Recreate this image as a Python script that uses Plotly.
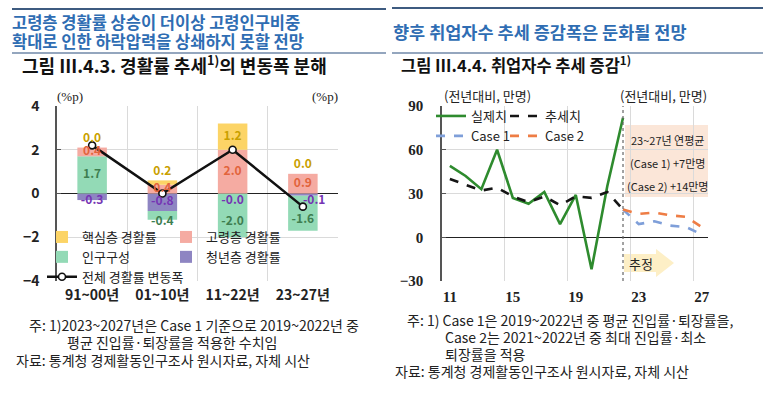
import plotly.graph_objects as go

# ---------------- data ----------------
categories = ["91~00년", "01~10년", "11~22년", "23~27년"]
core_lfpr = [0.0, 0.2, 1.2, 0.0]        # 핵심층 경활률
elderly_lfpr = [0.4, 0.4, 2.0, 0.9]     # 고령층 경활률
pop_comp = [1.7, -0.4, -2.0, -1.6]      # 인구구성
youth_lfpr = [-0.3, -0.8, -0.0, -0.1]   # 청년층 경활률
total_change = [2.2, 0.0, 2.0, -0.6]    # 전체 경활률 변동폭

years_actual = [11, 12, 13, 14, 15, 16, 17, 18, 19, 20, 21, 22]
actual = [49, 42, 33, 60, 27, 23, 31, 9, 29, -22, 35, 82]
trend = [40, 36, 32, 34, 28, 24, 28, 22, 28, 27, 31, 19]
years_fc = [22, 23, 24, 25, 26, 27]
case1 = [19, 9, 11, 8, 7, 2]
case2 = [19, 16, 17, 15, 14, 7]

left_yticks = [-4, -2, 0, 2, 4]
right_yticks = [-30, 0, 30, 60, 90]
right_xticks = [11, 15, 19, 23, 27]

# ---------------- styling ----------------
W, H = 780, 399
KR = "Noto Sans CJK KR"
SERIF = "Liberation Serif"
C_YEL, C_PINK, C_GRN, C_PUR = "#FCD466", "#F5ABA2", "#93DAB6", "#8E85C2"
T_YEL, T_PINK, T_GRN, T_PUR = "#C9A000", "#E2643C", "#3E7E50", "#7534B4"
GRID = "#DADADA"
AX = "#555555"
BLUE = "#2F6DB3"


def X(px):
    return px / W


def Y(py):
    return 1 - py / H


fig = go.Figure()

# ---------------- left chart: stacked bars ----------------
bar_specs = [
    ("청년층 경활률", youth_lfpr, C_PUR, "legend3", 4),
    ("인구구성", pop_comp, C_GRN, "legend", 3),
    ("고령층 경활률", elderly_lfpr, C_PINK, "legend3", 2),
    ("핵심층 경활률", core_lfpr, C_YEL, "legend", 1),
]
for name, vals, col, lg, rank in bar_specs:
    fig.add_trace(go.Bar(
        x=categories, y=vals, name=name, marker=dict(color=col, line=dict(width=0)),
        width=0.42, xaxis="x", yaxis="y", legend=lg, legendrank=rank, hoverinfo="skip",
    ))

fig.add_trace(go.Scatter(
    x=categories, y=total_change, name="전체 경활률 변동폭", mode="lines+markers",
    line=dict(color="#111111", width=2.5),
    marker=dict(symbol="circle", size=7, color="white", line=dict(color="#111111", width=1.6)),
    xaxis="x", yaxis="y", legend="legend", legendrank=5, hoverinfo="skip",
))

# value labels computed from the data
lab = {"yel": ([], [], []), "pink": ([], [], []), "grn": ([], [], []), "pur": ([], [], [], [])}
for i, cat in enumerate(categories):
    pc, el, co, yo = pop_comp[i], elderly_lfpr[i], core_lfpr[i], youth_lfpr[i]
    neg_base = min(yo, 0)
    gy = pc / 2 if pc >= 0 else neg_base + pc / 2 - 0.3
    lab["grn"][0].append(cat); lab["grn"][1].append(gy); lab["grn"][2].append(f"{pc:.1f}")
    pos = max(pc, 0)
    lab["pink"][0].append(cat); lab["pink"][1].append(pos + el / 2); lab["pink"][2].append(f"{el:.1f}")
    pos += max(el, 0)
    yy = pos + co / 2 if co >= 0.6 else pos + co + 0.4
    lab["yel"][0].append(cat); lab["yel"][1].append(yy); lab["yel"][2].append(f"{co:.1f}")
    py_ = min(yo / 2, -0.35)
    lab["pur"][0].append(cat); lab["pur"][1].append(py_); lab["pur"][2].append(f"{yo:.1f}")
    lab["pur"][3].append("middle right" if abs(total_change[i] - py_) < 0.3 else "middle center")

for key, col in [("grn", T_GRN), ("pink", T_PINK), ("yel", T_YEL), ("pur", T_PUR)]:
    d = lab[key]
    fig.add_trace(go.Scatter(
        x=d[0], y=d[1], text=d[2], mode="text",
        textposition=d[3] if key == "pur" else "middle center",
        textfont=dict(family=KR, size=12, color=col, weight="bold"),
        xaxis="x", yaxis="y", showlegend=False, hoverinfo="skip",
    ))

# ---------------- right chart: lines ----------------
fig.add_trace(go.Scatter(
    x=years_actual, y=actual, name="실제치", mode="lines",
    line=dict(color="#2E8B2E", width=2.6), xaxis="x2", yaxis="y2",
    legend="legend2", legendrank=1, hoverinfo="skip",
))
fig.add_trace(go.Scatter(
    x=years_actual, y=trend, name="추세치", mode="lines",
    line=dict(color="#151515", width=2.6, dash="dash"), xaxis="x2", yaxis="y2",
    legend="legend4", legendrank=1, hoverinfo="skip",
))
fig.add_trace(go.Scatter(
    x=years_fc, y=case1, name="Case 1", mode="lines",
    line=dict(color="#7F9FD9", width=2.6, dash="dash"), xaxis="x2", yaxis="y2",
    legend="legend2", legendrank=2, hoverinfo="skip",
))
fig.add_trace(go.Scatter(
    x=years_fc, y=case2, name="Case 2", mode="lines",
    line=dict(color="#EE7D45", width=2.6, dash="dash"), xaxis="x2", yaxis="y2",
    legend="legend4", legendrank=2, hoverinfo="skip",
))

# ---------------- axes ----------------
dom_y = [Y(281), Y(106)]
tick_l = dict(family=KR, size=14, color="#222222", weight="bold")
tick_r = dict(family=SERIF, size=15, color="#222222", weight="bold")

fig.update_layout(
    width=W, height=H, autosize=False,
    margin=dict(l=0, r=0, t=0, b=0, pad=0, autoexpand=False),
    paper_bgcolor="white", plot_bgcolor="white",
    barmode="relative", bargap=0.58,
    showlegend=True,
    xaxis=dict(domain=[X(57), X(338)], type="category", range=[-0.5, 3.5],
               tickson="boundaries", showgrid=True, gridcolor=GRID, gridwidth=1,
               ticks="", showline=False, zeroline=False, tickfont=tick_l,
               ticklabelstandoff=4, anchor="y", automargin=False),
    yaxis=dict(domain=dom_y, range=[-4, 4], tickvals=left_yticks, showgrid=True,
               gridcolor=GRID, zeroline=True, zerolinecolor="#222222", zerolinewidth=1.3,
               showline=True, linecolor=AX, linewidth=1.5, ticks="inside", ticklen=4,
               tickcolor=AX, tickfont=tick_l, ticklabelstandoff=13, anchor="x",
               automargin=False),
    yaxis3=dict(domain=dom_y, range=[-4, 4], tickvals=left_yticks, overlaying="y", side="right",
                showgrid=False, zeroline=False, showline=True, linecolor=AX, linewidth=1.5,
                ticks="inside", ticklen=4, tickcolor=AX, tickfont=tick_l,
                ticklabelstandoff=12, anchor="x", automargin=False),
    xaxis2=dict(domain=[X(442), X(708)], range=[10.5, 27.4], tickvals=right_xticks,
                showgrid=False, ticks="", showline=False, zeroline=False, tickfont=tick_r,
                minor=dict(tick0=10.5, dtick=4, showgrid=True, gridcolor=GRID, ticks=""),
                ticklabelstandoff=5, anchor="y2", automargin=False),
    yaxis2=dict(domain=dom_y, range=[-30, 90], tickvals=right_yticks, showgrid=True,
                gridcolor=GRID, zeroline=True, zerolinecolor="#222222", zerolinewidth=1.3,
                showline=True, linecolor=AX, linewidth=1.5, ticks="inside", ticklen=4,
                tickcolor=AX, tickfont=tick_r, ticklabelstandoff=14, anchor="x2",
                automargin=False),
    yaxis4=dict(domain=dom_y, range=[-30, 90], tickvals=right_yticks, overlaying="y2",
                side="right", showgrid=False, zeroline=False, showline=True, linecolor=AX,
                linewidth=1.5, ticks="inside", ticklen=4, tickcolor=AX, tickfont=tick_r,
                ticklabelstandoff=16, anchor="x2", automargin=False),
)

leg_font = dict(family=KR, size=13, color="#222222")
common_leg = dict(orientation="v", bgcolor="rgba(0,0,0,0)", borderwidth=0, font=leg_font,
                  tracegroupgap=0, itemwidth=30, xanchor="left", yanchor="top",
                  xref="paper", yref="paper", traceorder="normal")
fig.update_layout(
    legend=dict(x=X(42), y=Y(222), **common_leg),
    legend3=dict(x=X(166), y=Y(222), **common_leg),
    legend2=dict(x=X(431), y=Y(101), **common_leg),
    legend4=dict(x=X(505), y=Y(101), **common_leg),
)

# ---------------- shapes ----------------
shapes = [
    dict(type="line", xref="paper", yref="paper", x0=X(12), x1=X(386), y0=Y(9), y1=Y(9),
         line=dict(color="#3E5B80", width=2)),
    dict(type="line", xref="paper", yref="paper", x0=X(12), x1=X(386), y0=Y(53), y1=Y(53),
         line=dict(color="#7188A8", width=1.5)),
    dict(type="line", xref="paper", yref="paper", x0=X(392), x1=X(763), y0=Y(8), y1=Y(8),
         line=dict(color="#3E5B80", width=2)),
    dict(type="line", xref="paper", yref="paper", x0=X(392), x1=X(763), y0=Y(53), y1=Y(53),
         line=dict(color="#7188A8", width=1.5)),
    # forecast boundary
    dict(type="line", xref="x2", yref="y2 domain", x0=years_actual[-1], x1=years_actual[-1],
         y0=0, y1=1, line=dict(color="#666666", width=1.2, dash="dot")),
    # annotation box
    dict(type="rect", xref="paper", yref="paper", x0=X(625), x1=X(708), y0=Y(197), y1=Y(125),
         fillcolor="#FBE6D8", line=dict(width=0), layer="below"),
    # 추정 arrow
    dict(type="path", xref="paper", yref="paper",
         path=(f"M {X(624)},{Y(254)} L {X(656)},{Y(254)} L {X(656)},{Y(249)} "
               f"L {X(674)},{Y(263)} L {X(656)},{Y(277)} L {X(656)},{Y(272)} "
               f"L {X(624)},{Y(272)} Z"),
         fillcolor="#FDEFC6", line=dict(width=0), layer="below"),
]
fig.update_layout(shapes=shapes)

# ---------------- annotations ----------------
def ann(text, x, y, size=13, color="#222222", xanchor="left", family=KR, weight=None):
    f = dict(family=family, size=size, color=color)
    if weight:
        f["weight"] = weight
    return dict(text=text, x=X(x), y=Y(y), xref="paper", yref="paper", showarrow=False,
                xanchor=xanchor, yanchor="middle", font=f, align="left")


annotations = [
    ann("고령층 경활률 상승이 더이상 고령인구비중", 10, 22, size=16.5, color=BLUE, weight="bold"),
    ann("확대로 인한 하락압력을 상쇄하지 못할 전망", 10, 41, size=16.5, color=BLUE, weight="bold"),
    ann("향후 취업자수 추세 증감폭은 둔화될 전망", 391, 31, size=17.5, color=BLUE, weight="bold"),
    ann("<b>그림 Ⅲ.4.3. 경활률 추세<sup>1)</sup>의 변동폭 분해</b>", 20, 64, size=18, color="#111111"),
    ann("<b>그림 Ⅲ.4.4. 취업자수 추세 증감<sup>1)</sup></b>", 399, 64, size=16.5, color="#111111"),
    ann("(%p)", 70, 96, size=13, xanchor="center", family=SERIF),
    ann("(%p)", 325, 96, size=13, xanchor="center", family=SERIF),
    ann("(전년대비, 만명)", 487, 95, size=13, xanchor="center"),
    ann("(전년대비, 만명)", 663, 95, size=13, xanchor="center"),
    ann("23~27년 연평균", 667, 140, size=11, xanchor="center"),
    ann("(Case 1) +7만명", 667, 163, size=11, xanchor="center"),
    ann("(Case 2) +14만명", 667, 186, size=11, xanchor="center"),
    ann("추정", 641, 263, size=13, xanchor="center"),
    ann("주: 1)2023~2027년은 Case 1 기준으로 2019~2022년 중", 27, 325, size=14),
    ann("평균 진입률·퇴장률을 적용한 수치임", 65, 342, size=14),
    ann("자료: 통계청 경제활동인구조사 원시자료, 자체 시산", 14, 360, size=14),
    ann("주: 1) Case 1은 2019~2022년 중 평균 진입률·퇴장률을,", 405, 320, size=14),
    ann("Case 2는 2021~2022년 중 최대 진입률·최소", 443, 337, size=14),
    ann("퇴장률을 적용", 443, 354, size=14),
    ann("자료: 통계청 경제활동인구조사 원시자료, 자체 시산", 393, 371, size=14),
]
fig.update_layout(annotations=annotations)

fig.write_html(
    "out.html",
    config={"displayModeBar": False, "responsive": False},
    post_script="document.body.style.margin='0';document.body.style.padding='0';"
                "document.documentElement.style.overflow='hidden';",
)
